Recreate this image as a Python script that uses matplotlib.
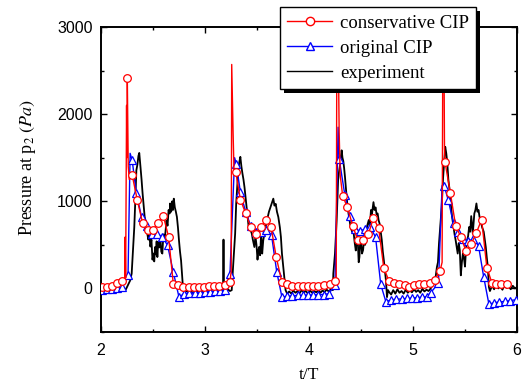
import matplotlib
matplotlib.use("Agg")
import matplotlib.pyplot as plt
from matplotlib.lines import Line2D
from matplotlib.patches import Rectangle
from matplotlib.ticker import MultipleLocator

# experiment (pressure gauge p2)
exp_t = [2.00, 2.02, 2.04, 2.06, 2.08, 2.10, 2.12, 2.14, 2.16, 2.18, 2.20, 2.22, 2.24, 2.26, 2.28,
         2.295, 2.31, 2.32, 2.33, 2.34, 2.35, 2.36, 2.368, 2.375, 2.38, 2.39, 2.40, 2.41, 2.42, 2.43,
         2.445, 2.455, 2.465, 2.475, 2.485, 2.495, 2.505, 2.512, 2.52, 2.528, 2.535, 2.542, 2.55, 2.56,
         2.57, 2.58, 2.59, 2.60, 2.61, 2.62, 2.63, 2.64, 2.65, 2.66, 2.665, 2.675, 2.685, 2.692, 2.70,
         2.71, 2.72, 2.73, 2.74, 2.75, 2.76, 2.77, 2.78, 2.785, 2.79, 2.80,
         2.82, 2.84, 2.86, 2.88, 2.90, 2.92, 2.94, 2.96, 2.98, 3.00, 3.02, 3.04, 3.06, 3.08, 3.10,
         3.12, 3.14, 3.16, 3.175, 3.178, 3.181, 3.20, 3.22, 3.24, 3.257, 3.27, 3.29, 3.30, 3.32, 3.33,
         3.34, 3.35, 3.36, 3.37, 3.38, 3.39, 3.40, 3.41, 3.42, 3.435, 3.45, 3.46, 3.475, 3.485, 3.495,
         3.505, 3.512, 3.52, 3.53, 3.54, 3.55, 3.56, 3.57, 3.585, 3.60, 3.615, 3.63, 3.645, 3.657,
         3.668, 3.68, 3.692, 3.705, 3.72, 3.73, 3.74, 3.75, 3.76, 3.775, 3.79,
         3.81, 3.83, 3.85, 3.87, 3.89, 3.91, 3.93, 3.95, 3.97, 3.99, 4.01, 4.03, 4.05, 4.07, 4.09,
         4.11, 4.13, 4.15, 4.17, 4.19, 4.21, 4.23,
         4.234, 4.25, 4.266, 4.28, 4.29, 4.30, 4.314, 4.322, 4.33, 4.338, 4.346, 4.355, 4.362, 4.37,
         4.38, 4.39, 4.40, 4.415, 4.43, 4.44, 4.45, 4.46, 4.47, 4.478, 4.485, 4.493, 4.50, 4.51, 4.52,
         4.53, 4.54, 4.55, 4.56, 4.575, 4.585, 4.596, 4.605, 4.62, 4.63, 4.64, 4.65, 4.66, 4.67, 4.68,
         4.69, 4.70, 4.71, 4.72, 4.73, 4.74, 4.75, 4.76, 4.77,
         4.79, 4.81, 4.83, 4.85, 4.87, 4.89, 4.91, 4.93, 4.95, 4.97, 4.99, 5.01, 5.03, 5.05, 5.07,
         5.09, 5.11, 5.13, 5.15, 5.17,
         5.18, 5.195, 5.21, 5.23, 5.24, 5.25, 5.265, 5.276, 5.29, 5.30, 5.31, 5.32, 5.33, 5.34, 5.35,
         5.36, 5.375, 5.39, 5.40, 5.41, 5.42, 5.43, 5.44, 5.45, 5.455, 5.46, 5.47, 5.48, 5.49, 5.50,
         5.51, 5.52, 5.53, 5.54, 5.55, 5.56, 5.575, 5.59, 5.60, 5.61, 5.62, 5.63, 5.64, 5.65, 5.665,
         5.68, 5.69, 5.70, 5.71, 5.72, 5.73, 5.74,
         5.76, 5.78, 5.80, 5.82, 5.84, 5.86, 5.88, 5.90, 5.92, 5.94, 5.96, 5.98, 6.00]
exp_p = [-20, -5, -25, -8, -18, 0, -22, -5, -15, 5, -20, 0, -10, 40, 90,
         170, 475, 700, 1010, 1355, 1420, 1520, 1555, 1450, 1390, 1250, 1090, 960, 820, 760,
         630, 560, 610, 480, 560, 330, 400, 310, 475, 390, 540, 360, 530, 470,
         600, 420, 400, 620, 560, 650, 780, 720, 900, 860, 975, 880, 1000, 900, 1030,
         930, 880, 820, 700, 550, 420, 320, 150, 55, -20, -50,
         -30, -45, -25, -50, -30, -45, -20, -40, -25, -45, -20, -40, -25, -45, -20,
         -35, -20, -30, -10, 560, -10, -25, -10, -30, -20, 245, 630, 975, 1355, 1450,
         1510, 1400, 1320, 1250, 1160, 1050, 935, 820, 705, 680, 630, 560, 475, 600, 500,
         330, 420, 475, 380, 630, 400, 550, 620, 720, 800, 880, 935, 990, 1030,
         950, 970, 880, 820, 700, 590, 400, 280, 170, -20, -60,
         -35, -60, -25, -50, -30, -55, -20, -45, -30, -60, -25, -50, -30, -45, -20,
         -50, -25, -40, -15, -35, -10, -20,
         170, 400, 780, 1240, 1350, 1430, 1585, 1500, 1460, 1380, 1280, 1150, 1050, 950,
         860, 780, 705, 650, 630, 520, 435, 600, 520, 300, 360, 560, 555, 400, 440,
         560, 500, 650, 720, 785, 700, 900, 850, 990, 900, 930, 850, 860, 780, 740,
         650, 555, 420, 320, 200, 90, -100, -20, -40,
         -70, -20, -60, -10, -50, -30, -60, -15, -50, -25, -45, -10, -40, -20, -50,
         -5, -35, -15, -30, 0,
         20, 90, 60, 245, 300, 515, 750, 935, 1280, 1450, 1625, 1550, 1440, 1250, 1150,
         1020, 830, 705, 620, 555, 480, 400, 520, 440, 300, 150, 300, 400, 350, 250,
         450, 555, 600, 705, 650, 830, 630, 860, 900, 975, 880, 900, 820, 785, 700,
         650, 560, 475, 350, 245, 15, -30,
         30, -10, 40, 0, 25, -15, 35, 5, 20, -10, 30, 0, 15]

# conservative CIP: marker points + sharp peaks between markers
cons_t = [2.007, 2.055, 2.105, 2.154, 2.203, 2.253, 2.300, 2.350, 2.400, 2.450, 2.500, 2.550,
          2.600, 2.650, 2.695, 2.745, 2.792, 2.843, 2.894, 2.942, 2.990, 3.042, 3.090, 3.138,
          3.192, 3.240, 3.295, 3.340, 3.390, 3.440, 3.490, 3.540, 3.590, 3.635, 3.685, 3.740,
          3.790, 3.840, 3.890, 3.940, 3.990, 4.040, 4.090, 4.140, 4.200, 4.250, 4.324, 4.370,
          4.420, 4.470, 4.520, 4.570, 4.620, 4.670, 4.720, 4.770, 4.820, 4.870, 4.920, 4.960,
          5.010, 5.060, 5.110, 5.160, 5.210, 5.260, 5.308, 5.360, 5.410, 5.460, 5.510, 5.560,
          5.610, 5.660, 5.710, 5.760, 5.800, 5.850, 5.900]
cons_p = [15, 15, 30, 60, 90, 2420, 1300, 1010, 750, 665, 675, 750,
          830, 590, 55, 35, 15, 15, 15, 20, 20, 25, 25, 30,
          42, 73, 1340, 1020, 865, 705, 630, 705, 790, 705, 360, 70,
          45, 30, 25, 25, 25, 30, 30, 35, 45, 80, 1060, 930,
          720, 550, 550, 620, 810, 690, 230, 85, 60, 45, 35, 20,
          40, 50, 55, 60, 100, 200, 1450, 1090, 720, 590, 430, 510,
          640, 790, 240, 60, 45, 45, 45]
cons_peak_t = [2.228, 2.232, 2.237, 2.246, 2.249, 2.262, 2.272,
               3.252, 3.257, 3.270, 3.280,
               4.262, 4.268, 4.280, 4.290, 4.300,
               5.280, 5.287, 5.297, 5.303]
cons_peak_p = [100, 590, 120, 2100, 1500, 1400, 1250,
               200, 2570, 1800, 1300,
               100, 2950, 2950, 1800, 1300,
               300, 2900, 2900, 1600]

# original CIP
orig_t = [2.007, 2.056, 2.105, 2.154, 2.203, 2.260, 2.300, 2.340, 2.390, 2.440, 2.490, 2.540,
          2.590, 2.640, 2.695, 2.750, 2.800, 2.850, 2.900, 2.950, 3.000, 3.050, 3.100, 3.145,
          3.195, 3.240, 3.300, 3.340, 3.390, 3.440, 3.490, 3.540, 3.590, 3.640, 3.690, 3.740,
          3.790, 3.840, 3.890, 3.940, 3.990, 4.040, 4.090, 4.140, 4.190, 4.250, 4.290, 4.345,
          4.390, 4.440, 4.490, 4.540, 4.590, 4.640, 4.690, 4.740, 4.790, 4.840, 4.890, 4.940,
          4.990, 5.040, 5.090, 5.130, 5.170, 5.245, 5.300, 5.340, 5.390, 5.430, 5.480, 5.530,
          5.580, 5.630, 5.680, 5.730, 5.780, 5.830, 5.880, 5.930, 5.990]
orig_p = [-15, -10, -5, 0, 20, 150, 1470, 1090, 820, 720, 630, 630,
          590, 495, 190, -100, -60, -55, -50, -50, -45, -40, -35, -30,
          -20, 160, 1430, 1110, 880, 720, 650, 650, 675, 610, 190, -100,
          -90, -85, -80, -80, -75, -75, -70, -70, -60, 35, 1490, 1070,
          830, 680, 660, 680, 700, 590, 45, -155, -130, -125, -120, -115,
          -110, -105, -100, -95, -50, 60, 1175, 1010, 745, 650, 570, 540,
          570, 490, 130, -180, -165, -155, -150, -140, -130]
orig_peak_t = [2.280, 3.285, 4.280, 5.280]
orig_peak_p = [1550, 1500, 1850, 1180]


def merged(t_a, p_a, t_b, p_b):
    pts = sorted(zip(list(t_a) + list(t_b), list(p_a) + list(p_b)))
    return [x for x, y in pts], [y for x, y in pts]


plt.rcParams['mathtext.fontset'] = 'stix'
serif = 'Liberation Serif'
sans = 'Liberation Sans'

fig = plt.figure(figsize=(5.23, 3.85), dpi=100)
ax = fig.add_axes([0.1931, 0.1377, 0.7954, 0.7922])

ax.plot(exp_t, exp_p, color='black', lw=1.3, zorder=2)

ot, op = merged(orig_t, orig_p, orig_peak_t, orig_peak_p)
ax.plot(ot, op, color='blue', lw=1.0, zorder=3)
ax.plot(orig_t, orig_p, ls='none', marker='^', ms=5.5, mfc='white', mec='blue', mew=0.9, zorder=3)

ct, cp = merged(cons_t, cons_p, cons_peak_t, cons_peak_p)
ax.plot(ct, cp, color='red', lw=1.0, zorder=4)
ax.plot(cons_t, cons_p, ls='none', marker='o', ms=5.5, mfc='white', mec='red', mew=0.9, zorder=4)

ax.set_xlim(2, 6)
ax.set_ylim(-500, 3000)
ax.xaxis.set_major_locator(MultipleLocator(1))
ax.xaxis.set_minor_locator(MultipleLocator(0.5))
ax.yaxis.set_major_locator(MultipleLocator(1000))
ax.yaxis.set_minor_locator(MultipleLocator(500))
ax.tick_params(which='both', direction='in', top=True, right=True, width=1.0)
ax.tick_params(which='major', length=4)
ax.tick_params(which='minor', length=2.5)
ax.tick_params(labelsize=11.5, pad=6)
ax.tick_params(axis='x', pad=8)
for lab in ax.get_xticklabels() + ax.get_yticklabels():
    lab.set_fontfamily(sans)
for s in ax.spines.values():
    s.set_linewidth(1.4)

ax.set_xlabel('t/T', fontfamily=serif, fontsize=12.5)
ax.set_ylabel(r'Pressure at p$_2$ $(Pa)$', fontfamily=serif, fontsize=13)
ax.xaxis.set_label_coords(0.5, -0.115)
ax.yaxis.set_label_coords(-0.152, 0.54)

handles = [
    Line2D([], [], color='red', lw=1.0, marker='o', ms=6, mfc='white', mec='red'),
    Line2D([], [], color='blue', lw=1.0, marker='^', ms=6, mfc='white', mec='blue'),
    Line2D([], [], color='black', lw=1.0),
]
labels = ['conservative CIP', 'original CIP', 'experiment']
leg = ax.legend(handles, labels, loc='upper left', bbox_to_anchor=(0.535, 0.982),
                bbox_transform=fig.transFigure, borderaxespad=0, fancybox=False,
                framealpha=1, edgecolor='black', prop={'family': serif, 'size': 13.5},
                handlelength=2.4, handletextpad=0.4, labelspacing=0.42, borderpad=0.4)
leg.get_frame().set_linewidth(1.0)
leg.set_zorder(10)

# solid black drop shadow behind the legend box
fig.canvas.draw()
bb = leg.get_window_extent().transformed(fig.transFigure.inverted())
shadow = Rectangle((bb.x0 + 4 / 523, bb.y0 - 4 / 385), bb.width, bb.height,
                   transform=fig.transFigure, facecolor='black', edgecolor='none',
                   zorder=9, clip_on=False)
ax.add_patch(shadow)

fig.savefig('out.png', dpi=100)
